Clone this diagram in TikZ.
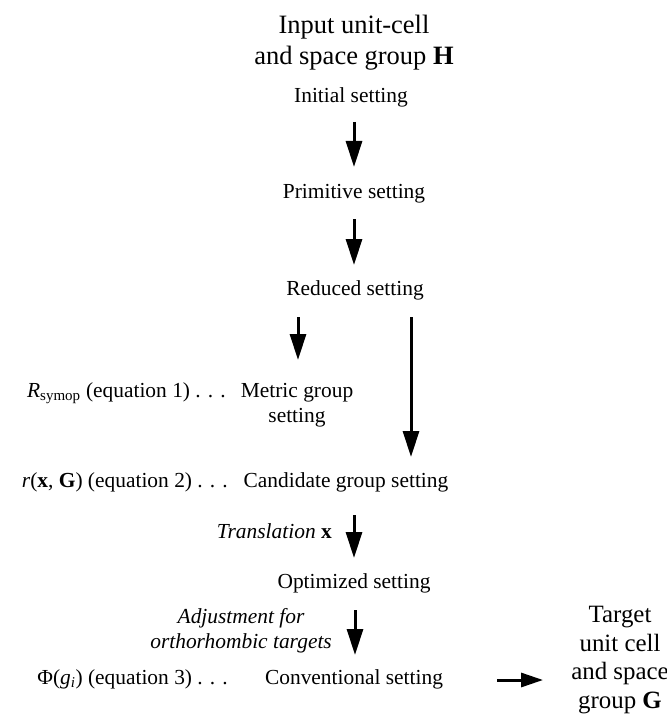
\documentclass[tikz,border=0pt]{standalone}
\usepackage{fontspec}
\setmainfont{Liberation Serif}
\usetikzlibrary{arrows.meta,calc}
\begin{document}
\begin{tikzpicture}[x=1bp,y=-1bp,
  lbl/.style={inner sep=0pt, font=\fontsize{21.5}{25}\selectfont, align=center},
  big/.style={inner sep=0pt, font=\fontsize{26.6}{32}\selectfont, align=center},
  tgt/.style={inner sep=0pt, font=\fontsize{25}{28.5}\selectfont, align=center},
  arr/.style={line width=3bp, -{Triangle[length=26bp,width=16bp]}},
  arrh/.style={line width=3bp, -{Triangle[length=22bp,width=14bp]}}]
\useasboundingbox (0,0) rectangle (667,722);
% main column (multi-line nodes: base = last line)
\node[big, anchor=base] (title) at (354,65) {Input unit-cell\\and space group \textbf{H}};
\node[lbl, anchor=base] (init) at (351,103) {Initial setting};
\node[lbl, anchor=base] (prim) at (354,198) {Primitive setting};
\node[lbl, anchor=base] (red) at (355,295) {Reduced setting};
\node[lbl, anchor=base] (metric) at (297,422) {Metric group\\setting};
\node[lbl, anchor=base] (cand) at (346,487) {Candidate group setting};
\node[lbl, anchor=base] (opt) at (354,588) {Optimized setting};
\node[lbl, anchor=base] (conv) at (354,684) {Conventional setting};
\node[tgt, anchor=base] (target) at (620,708) {Target\\unit cell\\and space\\group \textbf{G}};
% side labels
\node[lbl, anchor=base east] (rsym) at (226,397) {\textit{R}\textsubscript{symop} (equation 1) . . .};
\node[lbl, anchor=base east] (rxg) at (228,487) {\textit{r}(\textbf{x}, \textbf{G}) (equation 2) . . .};
\node[lbl, anchor=base east] (phi) at (228,684) {Φ(\textit{g\textsubscript{i}}) (equation 3) . . .};
\node[lbl, anchor=base east] (transl) at (332,538) {\textit{Translation} \textbf{x}};
\node[lbl, anchor=base east] (adj) at (332,648) {\textit{Adjustment for}\\\textit{orthorhombic targets}};
% arrows
\draw[arr] ($(init.base)+(3,19)$) -- ($(prim.base)+(0,-31)$);
\draw[arr] ($(prim.base)+(0,21)$) -- ($(red.base)+(-1,-30)$);
\draw[arr] ($(red.base)+(-57,22)$) -- ($(metric.base)+(1,-62)$);
\draw[arr] ($(red.base)+(56,22)$) -- ($(cand.base)+(65,-30)$);
\draw[arr] ($(cand.base)+(8,28)$) -- ($(opt.base)+(0,-30)$);
\draw[arr] ($(opt.base)+(1,22)$) -- ($(conv.base)+(1,-29)$);
\draw[arrh] ($(conv.base)+(143,-4)$) -- ($(conv.base -| target.west)+(-28,-4)$);
\end{tikzpicture}
\end{document}
